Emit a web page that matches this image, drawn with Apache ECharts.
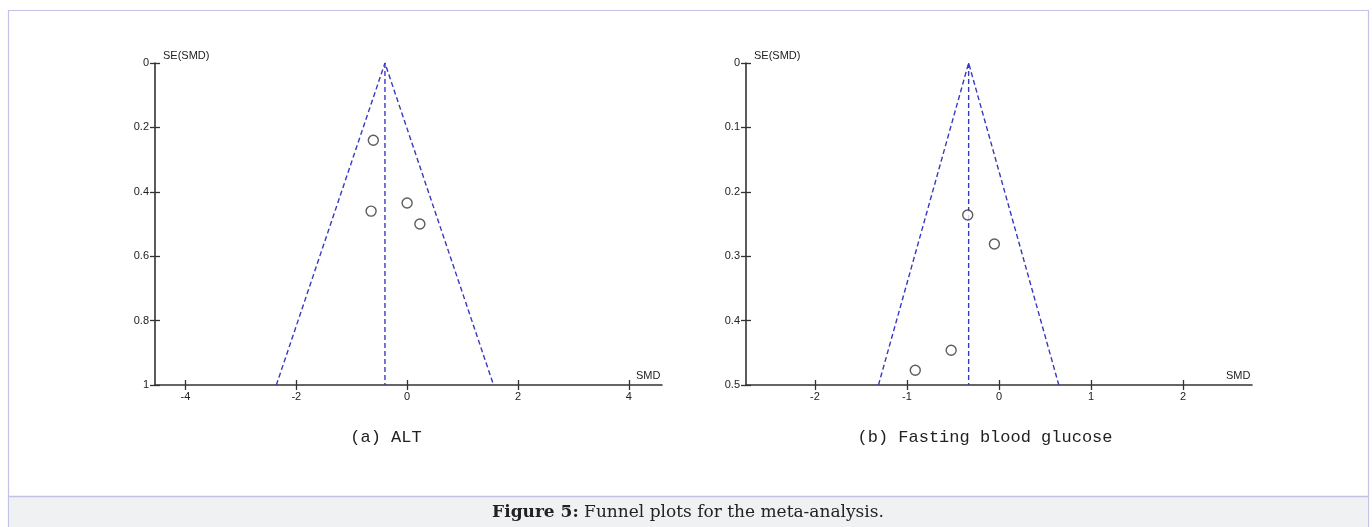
<!DOCTYPE html>
<html>
<head>
<meta charset="utf-8">
<script src="https://cdn.jsdelivr.net/npm/echarts@6/dist/echarts.min.js"></script>
<style>
html,body{margin:0;padding:0;background:#fff;}
#c{width:1372px;height:527px;}
</style>
</head>
<body>
<div id="c"></div>
<script>
// ---- Data ----
// (a) ALT
const altSMD = [-0.61, -0.65, 0.00, 0.23];
const altSE  = [0.24, 0.46, 0.435, 0.50];
const altPooled = -0.40;
const altFunnelX = [-2.36, -0.40, 1.56];   // pseudo 95% CI limits at SE=1, apex, SE=1
const altFunnelY = [1, 0, 1];
const altXTicks = [-4, -2, 0, 2, 4];
const altYTicks = [0, 0.2, 0.4, 0.6, 0.8, 1];

// (b) Fasting blood glucose
const fbgSMD = [-0.34, -0.05, -0.52, -0.91];
const fbgSE  = [0.236, 0.281, 0.446, 0.477];
const fbgPooled = -0.33;
const fbgFunnelX = [-1.31, -0.33, 0.65];
const fbgFunnelY = [0.5, 0, 0.5];
const fbgXTicks = [-2, -1, 0, 1, 2];
const fbgYTicks = [0, 0.1, 0.2, 0.3, 0.4, 0.5];

const panelLabels = ['(a) ALT', '(b) Fasting blood glucose'];
const captionBold = 'Figure 5:';
const captionText = ' Funnel plots for the meta-analysis.';

// ---- Build ----
const axisCol = '#333';
const dashCol = '#3838c0';
const lblFont = {color: '#222', fontFamily: 'Liberation Sans, Arial, sans-serif', fontSize: 11};

function xAx(gi, min, max, ticks, inside) {
  return {
    type: 'value', gridIndex: gi, min: min, max: max, position: 'bottom', offset: 0,
    axisLine: {show: !inside, onZero: false, lineStyle: {color: axisCol, width: 1.6}},
    axisTick: {show: true, inside: inside, length: 5, customValues: ticks, lineStyle: {color: axisCol, width: 1.3}},
    axisLabel: {show: !inside, customValues: ticks, margin: 6, ...lblFont},
    splitLine: {show: false},
    name: inside ? '' : 'SMD', nameLocation: 'end', nameGap: -26,
    nameTextStyle: {...lblFont, align: 'left', verticalAlign: 'bottom', padding: [0, 0, 4, 0]}
  };
}
function yAx(gi, max, interval, inside) {
  return {
    type: 'value', gridIndex: gi, min: 0, max: max, interval: interval, inverse: true,
    position: 'left', offset: 0,
    axisLine: {show: !inside, onZero: false, lineStyle: {color: axisCol, width: 1.6}},
    axisTick: {show: true, inside: inside, length: 5, lineStyle: {color: axisCol, width: 1.3}},
    axisLabel: {show: !inside, margin: 6, ...lblFont},
    splitLine: {show: false},
    name: inside ? '' : 'SE(SMD)', nameLocation: 'start', nameGap: 2,
    nameTextStyle: {...lblFont, align: 'left', verticalAlign: 'bottom', padding: [0, 0, 0, 8]}
  };
}
function pts(xs, ys) { return xs.map((v, i) => [v, ys[i]]); }

const dashLine = {color: dashCol, width: 1.4, type: [5, 3]};

const option = {
  animation: false,
  backgroundColor: '#fff',
  grid: [
    {left: 155, right: 710, top: 63, bottom: 142},
    {left: 746, right: 120, top: 63, bottom: 142}
  ],
  xAxis: [
    xAx(0, -4.55, 4.6, altXTicks, false),
    xAx(1, -2.75, 2.75, fbgXTicks, false),
    xAx(0, -4.55, 4.6, altXTicks, true),
    xAx(1, -2.75, 2.75, fbgXTicks, true)
  ],
  yAxis: [
    yAx(0, 1, 0.2, false),
    yAx(1, 0.5, 0.1, false),
    yAx(0, 1, 0.2, true),
    yAx(1, 0.5, 0.1, true)
  ],
  series: [
    {type: 'line', xAxisIndex: 0, yAxisIndex: 0, data: pts(altFunnelX, altFunnelY), symbol: 'none', lineStyle: dashLine, z: 2},
    {type: 'line', xAxisIndex: 0, yAxisIndex: 0, data: [[altPooled, 0], [altPooled, 1]], symbol: 'none', lineStyle: dashLine, z: 2},
    {type: 'scatter', xAxisIndex: 0, yAxisIndex: 0, data: pts(altSMD, altSE), symbol: 'circle', symbolSize: 10,
     itemStyle: {color: '#fff', borderColor: '#333', borderWidth: 1.4}, z: 3},
    {type: 'line', xAxisIndex: 1, yAxisIndex: 1, data: pts(fbgFunnelX, fbgFunnelY), symbol: 'none', lineStyle: dashLine, z: 2},
    {type: 'line', xAxisIndex: 1, yAxisIndex: 1, data: [[fbgPooled, 0], [fbgPooled, 0.5]], symbol: 'none', lineStyle: dashLine, z: 2},
    {type: 'scatter', xAxisIndex: 1, yAxisIndex: 1, data: pts(fbgSMD, fbgSE), symbol: 'circle', symbolSize: 10,
     itemStyle: {color: '#fff', borderColor: '#333', borderWidth: 1.4}, z: 3}
  ],
  graphic: [
    {type: 'rect', z: -10, shape: {x: 8.5, y: 10.5, width: 1360, height: 530},
     style: {fill: '#fff', stroke: '#c4c2e4', lineWidth: 1.2}},
    {type: 'rect', z: -9, shape: {x: 9, y: 496, width: 1359, height: 40},
     style: {fill: '#f0f1f3', stroke: null}},
    {type: 'line', z: -8, shape: {x1: 9, y1: 496.5, x2: 1368, y2: 496.5},
     style: {stroke: '#c4c2e4', lineWidth: 1.5}},
    {type: 'text', x: 386, y: 437, style: {text: panelLabels[0], fill: '#222', font: '17px "Liberation Mono", monospace', align: 'center', verticalAlign: 'middle'}},
    {type: 'text', x: 985, y: 437, style: {text: panelLabels[1], fill: '#222', font: '17px "Liberation Mono", monospace', align: 'center', verticalAlign: 'middle'}},
    {type: 'text', x: 688, y: 513, style: {
      text: '{b|' + captionBold + '}{n|' + captionText + '}', align: 'center', verticalAlign: 'middle',
      rich: {
        b: {fontFamily: 'DejaVu Serif', fontWeight: 'bold', fontSize: 17, fill: '#222', color: '#222'},
        n: {fontFamily: 'DejaVu Serif', fontSize: 17, fill: '#222', color: '#222'}
      }
    }}
  ]
};

const chart = echarts.init(document.getElementById('c'), null, {renderer: 'canvas'});
chart.setOption(option);
</script>
</body>
</html>
